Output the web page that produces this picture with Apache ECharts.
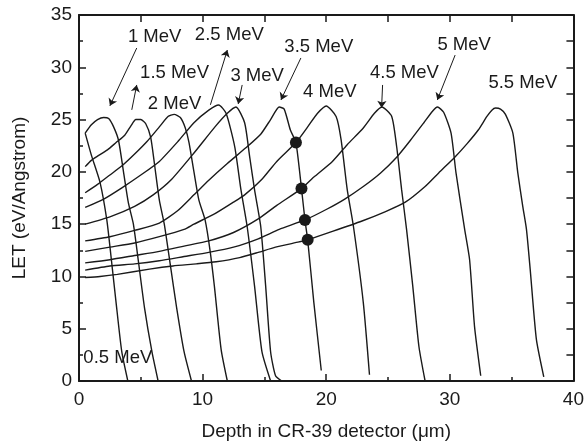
<!DOCTYPE html>
<html>
<head>
<meta charset="utf-8">
<script src="https://cdn.jsdelivr.net/npm/echarts@6/dist/echarts.min.js"></script>
<style>
  html, body { margin: 0; padding: 0; background: #fff; }
  #let_chart { width: 587px; height: 446px; }
</style>
</head>
<body>
<div id="let_chart"></div>
<script>
// LET vs depth curves, one [depth, LET] list per alpha energy
var mev05 = [[0.5,23.7],[1.0,21.6],[1.7,19.0],[2.25,15.4],[2.6,11.8],[3.0,7.5],[3.46,2.8],[3.95,0]];
var mev10 = [[0.5,23.7],[1.0,24.5],[1.5,25.0],[2.0,25.2],[2.4,25.1],[2.8,24.3],[3.2,23.0],[3.6,20.0],[4.0,17.0],[4.4,15.0],[4.8,11.5],[5.3,7.0],[5.9,2.8],[6.4,0]];
var mev15 = [[0.5,20.5],[1.0,21.1],[1.5,21.5],[2.3,22.1],[3.0,22.8],[3.7,23.5],[4.2,24.4],[4.6,25.0],[5.0,25.0],[5.4,24.6],[5.8,23.3],[6.1,20.8],[6.5,17.3],[6.9,15.0],[7.4,11.0],[7.9,7.0],[8.5,2.8],[9.1,0]];
var mev20 = [[0.5,18.0],[1.5,18.8],[2.5,19.7],[3.5,20.6],[4.5,21.7],[5.5,22.9],[6.5,24.3],[7.2,25.3],[7.7,25.5],[8.2,25.2],[8.6,24.2],[8.9,22.8],[9.3,20.0],[9.7,17.3],[10.2,15.4],[10.6,12.5],[10.95,9.1],[11.5,3.0],[12.0,0]];
var mev25 = [[0.5,16.6],[2.0,17.4],[3.5,18.5],[5.0,19.7],[6.5,21.0],[8.0,22.9],[9.3,24.7],[10.5,25.9],[11.3,26.4],[11.9,25.6],[12.6,22.4],[13.1,18.3],[13.6,14.8],[14.2,9.1],[14.8,2.8],[15.5,0]];
var mev30 = [[0.5,15.0],[2.5,15.7],[4.5,16.7],[6.0,17.8],[7.5,19.3],[9.3,21.8],[11.0,24.3],[12.0,25.6],[12.7,26.2],[13.4,24.7],[13.8,21.5],[14.2,18.3],[14.7,14.8],[15.1,9.1],[15.5,2.8],[15.9,0.5],[16.4,0]];
var mev35 = [[0.5,13.4],[2.5,13.8],[4.5,14.4],[6.5,15.1],[8.0,16.3],[9.3,17.8],[10.5,19.2],[12.0,20.8],[13.5,22.3],[14.7,23.6],[15.5,25.0],[16.2,26.2],[16.6,26.0],[17.1,24.0],[17.55,22.8],[18.0,18.4],[18.28,15.4],[18.5,13.5],[19.0,7.5],[19.6,1.0]];
var mev40 = [[0.5,12.4],[2.5,12.8],[4.5,13.2],[6.5,13.8],[8.5,14.5],[9.3,15.0],[11.0,16.0],[12.5,17.1],[13.4,17.8],[14.8,19.3],[16.0,21.0],[17.55,22.8],[18.5,24.3],[19.3,25.6],[20.0,26.3],[20.8,25.3],[21.2,23.1],[21.7,18.3],[22.2,14.8],[23.0,7.5],[23.5,0.6]];
var mev45 = [[0.5,11.3],[2.5,11.6],[4.5,12.0],[6.5,12.4],[8.5,12.9],[10.5,13.4],[12.5,14.2],[14.5,15.5],[16.0,16.8],[18.0,18.4],[19.0,19.5],[20.5,21.0],[21.7,22.6],[23.0,24.2],[23.9,25.6],[24.5,26.2],[25.3,25.3],[25.7,22.4],[26.1,18.3],[26.5,14.5],[27.0,9.1],[27.5,3.3],[28.0,0]];
var mev50 = [[0.5,10.6],[2.5,11.0],[4.5,11.2],[6.5,11.5],[8.5,11.9],[10.5,12.3],[12.5,12.8],[14.5,13.6],[16.2,14.5],[18.28,15.4],[20.0,16.4],[21.5,17.4],[23.0,18.6],[24.4,19.9],[25.7,21.4],[26.8,23.0],[27.9,24.7],[28.6,25.8],[29.0,26.2],[29.5,25.7],[30.1,23.7],[30.5,19.9],[31.2,14.5],[31.6,11.6],[32.0,5.2],[32.5,0.5]];
var mev55 = [[0.5,9.9],[1.7,10.0],[3.1,10.2],[5.7,10.7],[7.6,11.0],[9.5,11.2],[11.1,11.4],[13.0,11.8],[14.5,12.3],[15.9,12.8],[17.8,13.3],[18.5,13.5],[20.5,14.3],[22.9,15.3],[24.8,16.2],[26.4,17.1],[28.0,18.6],[29.1,19.9],[30.4,21.4],[31.4,22.7],[32.3,24.0],[33.0,25.3],[33.4,25.9],[33.7,26.1],[34.1,26.0],[34.5,25.5],[35.1,23.7],[35.5,19.9],[35.9,16.7],[36.2,14.5],[36.5,10.7],[37.0,4.0],[37.6,0.4]];

// filled circles on the 3.5 MeV curve
var crossPoints = [[17.55,22.8],[18.0,18.4],[18.28,15.4],[18.5,13.5]];

var curveList = [mev05, mev10, mev15, mev20, mev25, mev30, mev35, mev40, mev45, mev50, mev55];
var energyNames = ['0.5 MeV','1 MeV','1.5 MeV','2 MeV','2.5 MeV','3 MeV','3.5 MeV','4 MeV','4.5 MeV','5 MeV','5.5 MeV'];

// label anchors (data coords) and arrows [from, to]
var labelSpots = [[3.14,2.19],[6.12,32.89],[7.73,29.46],[7.73,26.50],[12.16,33.08],[14.41,29.17],[19.40,31.94],[20.29,27.65],[26.33,29.46],[31.16,32.13],[35.91,28.50]];
var arrowList = [
    [[4.67,31.84],[2.50,26.31]],
    [[4.27,25.93],[4.67,28.31]],
    [[10.63,26.41],[12.0,31.65]],
    [[13.2,28.31],[12.88,26.50]],
    [[17.95,30.89],[16.34,26.88]],
    [[24.56,28.31],[24.48,26.12]],
    [[30.43,31.17],[28.99,26.88]]
];

var fontName = 'Liberation Sans, Arial, sans-serif';
var ink = '#1a1a1a';

var myChart = echarts.init(document.getElementById('let_chart'));

var series = [];
for (var i = 0; i < curveList.length; i++) {
    series.push({
        name: energyNames[i],
        type: 'line',
        data: curveList[i],
        showSymbol: false,
        smooth: 0.2,
        lineStyle: {color: ink, width: 1.4},
        silent: true,
        z: 2
    });
}
series.push({
    type: 'scatter',
    data: crossPoints,
    symbolSize: 12,
    itemStyle: {color: ink, opacity: 1},
    silent: true,
    z: 4
});
series.push({
    type: 'lines',
    coordinateSystem: 'cartesian2d',
    data: arrowList.map(function (a) { return {coords: a}; }),
    symbol: ['none', 'arrow'],
    symbolSize: 7,
    lineStyle: {color: ink, width: 1, opacity: 1},
    silent: true,
    z: 3
});
series.push({
    type: 'scatter',
    data: labelSpots.map(function (p, k) { return {value: p, name: energyNames[k]}; }),
    symbolSize: 1,
    itemStyle: {color: 'rgba(0,0,0,0)', opacity: 1},
    label: {
        show: true,
        position: 'inside',
        formatter: '{b}',
        color: ink,
        opacity: 1,
        fontSize: 18.5,
        fontFamily: fontName
    },
    silent: true,
    z: 5
});

var axisLineStyle = {onZero: false, lineStyle: {color: ink, width: 2}};
var tickStyle = {color: ink, width: 1.5};

var option = {
    animation: false,
    backgroundColor: '#fff',
    grid: {left: 79, right: 11, top: 15, bottom: 64},
    xAxis: [
        {
            type: 'value', min: 0, max: 40, interval: 10, position: 'bottom',
            axisLine: axisLineStyle,
            axisTick: {inside: true, length: 7, lineStyle: tickStyle},
            minorTick: {show: true, splitNumber: 2, length: 4, lineStyle: tickStyle},
            axisLabel: {color: ink, fontSize: 19, fontFamily: fontName, margin: 9},
            splitLine: {show: false},
            name: 'Depth in CR-39 detector (\u03bcm)',
            nameLocation: 'middle',
            nameGap: 41,
            nameTextStyle: {color: ink, fontSize: 19, fontFamily: fontName}
        },
        {
            type: 'value', min: 0, max: 40, interval: 5, position: 'top',
            axisLine: axisLineStyle,
            axisTick: {inside: true, length: 7, lineStyle: tickStyle},
            axisLabel: {show: false},
            splitLine: {show: false}
        }
    ],
    yAxis: [
        {
            type: 'value', min: 0, max: 35, interval: 5, position: 'left',
            axisLine: axisLineStyle,
            axisTick: {inside: true, length: 7, lineStyle: tickStyle},
            minorTick: {show: true, splitNumber: 2, length: 4, lineStyle: tickStyle},
            axisLabel: {color: ink, fontSize: 19, fontFamily: fontName, margin: 7},
            splitLine: {show: false},
            name: 'LET (eV/Angstrom)',
            nameLocation: 'middle',
            nameGap: 50,
            nameTextStyle: {color: ink, fontSize: 19, fontFamily: fontName}
        },
        {
            type: 'value', min: 0, max: 35, interval: 2.5, position: 'right',
            axisLine: axisLineStyle,
            axisTick: {inside: true, length: 7, lineStyle: tickStyle},
            axisLabel: {show: false},
            splitLine: {show: false}
        }
    ],
    series: series
};
myChart.setOption(option);
</script>
</body>
</html>
